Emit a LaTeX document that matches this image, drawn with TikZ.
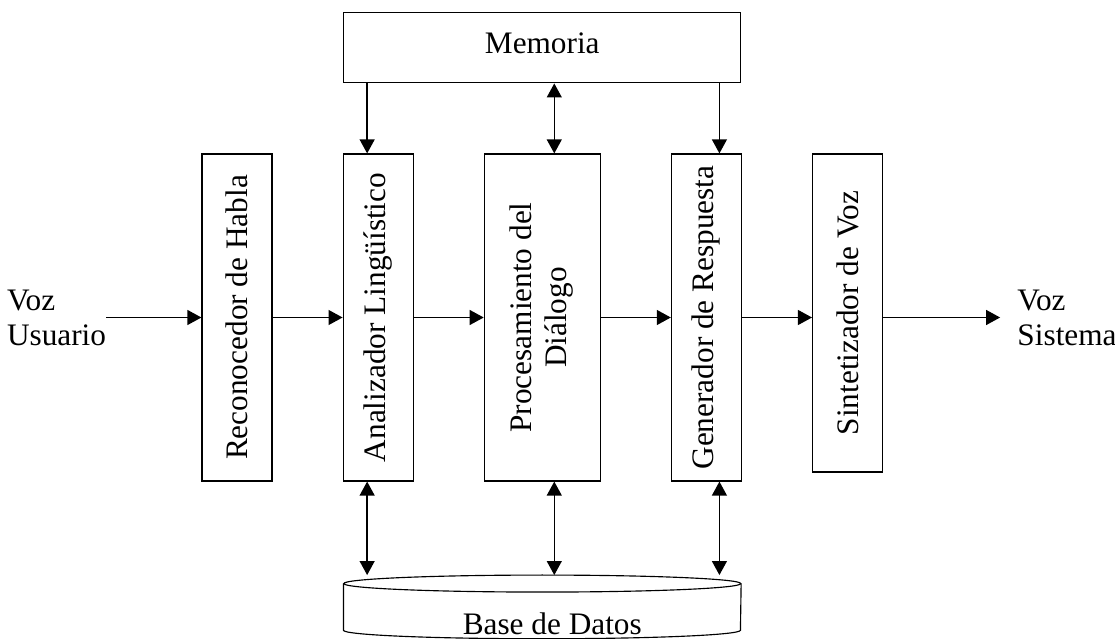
\documentclass[tikz,border=0pt]{standalone}
\usepackage{fontspec}
\setmainfont{Liberation Serif}
\usepackage{graphicx}
\usetikzlibrary{positioning, arrows.meta}
\tikzstyle{stage} = [
    rectangle,
    minimum width=1.4cm,
    minimum height=6.54cm,
    inner sep=0pt,
    line width=0.65pt,
    draw=black
]
\tikzstyle{block} = [
    rectangle,
    minimum width=7.94cm,
    minimum height=1.4cm,
    text depth=0.2cm,
    line width=0.65pt,
    draw=black
]
\tikzstyle{arrow} = [line width=0.85pt,->,>={Triangle[length=8pt,width=8.5pt]}]
\tikzstyle{darrow} = [line width=0.85pt,<->,>={Triangle[length=8pt,width=8.5pt]}]

\newcommand{\vtext}[1]{\rotatebox{90}{#1}}

\begin{document}
\begin{tikzpicture}[node distance=1.4cm, font=\fontsize{17.8pt}{19.9pt}\selectfont]

\useasboundingbox (0,0) rectangle (22.3,12.78);

\node (rec) [stage] at (4.74,6.43) {\vtext{Reconocedor de Habla}};

\node (ana) [stage, right=of rec] {\vtext{Analizador Lingüístico}};

\node (proc) [stage, minimum width=2.32cm, right=of ana]
{\vtext{\begin{tabular}{@{}c@{}}Procesamiento del\\Diálogo\end{tabular}}};

\node (gen) [stage, right=of proc] {\vtext{Generador de Respuesta}};

\node (sin) [stage, minimum height=6.36cm, right=of gen.north east, anchor=north west]
{\vtext{Sintetizador de Voz}};

\node (mem) [block, above=of proc] {Memoria};

\node (db) [minimum width=7.94cm, minimum height=0.92cm, inner sep=0pt, below=2.04cm of proc] {};
\node (dbl) [anchor=base] at ([xshift=0.2cm, yshift=-0.08cm]db.south) {Base de Datos};

\node (usr) [left=1.9cm of rec, align=left, inner sep=0pt] {Voz\\Usuario};
\node (sis) [align=left, inner sep=0pt, anchor=west, xshift=2.68cm] at (sin.east |- usr.west)
{Voz\\Sistema};

\coordinate (l1) at ([xshift=-0.22cm]ana.north);
\coordinate (l2) at ([xshift=0.24cm]proc.north);
\coordinate (l3) at ([xshift=0.26cm]gen.north);
\coordinate (dbtop) at ([yshift=0.17cm]db.north);

% data base cylinder
\draw [line width=0.65pt] (db.north) ellipse [x radius=3.97cm, y radius=0.17cm];
\draw [line width=0.65pt] (db.north west) -- (db.south west)
    arc [start angle=180, end angle=360, x radius=3.97cm, y radius=0.17cm] -- (db.north east);

\draw [arrow] (usr.east) -- (rec.west);
\draw [arrow] (rec) -- (ana);
\draw [arrow] (ana) -- (proc);
\draw [arrow] (proc) -- (gen);
\draw [arrow] (gen.east) -- (gen.east -| sin.west);
\draw [arrow] (sin.east |- sis.west) -- ([xshift=-0.34cm]sis.west);

\draw [arrow] (mem.south -| l1) -- (l1);
\draw [darrow] (mem.south -| l2) -- (l2);
\draw [arrow] (mem.south -| l3) -- (l3);

\draw [darrow] (ana.south -| l1) -- (dbtop -| l1);
\draw [darrow] (proc.south -| l2) -- (dbtop -| l2);
\draw [darrow] (gen.south -| l3) -- (dbtop -| l3);

\end{tikzpicture}
\end{document}
